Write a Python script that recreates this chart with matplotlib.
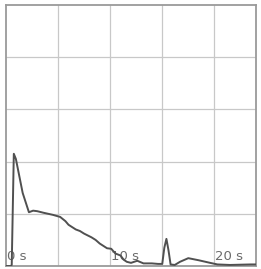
import matplotlib
matplotlib.use("Agg")
import matplotlib.pyplot as plt

# time (s) and value
t = [0.0, 0.45, 0.55, 0.75, 0.95, 1.6, 2.2, 2.6, 3.0, 3.6, 4.5, 5.2, 5.7, 6.0, 6.7, 7.1, 7.5,
     8.2, 8.6, 9.0, 9.7, 10.1, 10.5, 11.0, 11.3, 11.6, 12.0, 12.6, 13.2, 14.0, 14.6, 15.0,
     15.2, 15.4, 15.6, 15.8, 16.2, 16.7, 17.5, 18.5, 19.6, 20.3, 21.5, 23.5, 24.0]
v = [0.0, 0.0, 0.02, 2.15, 2.05, 1.40, 1.03, 1.06, 1.05, 1.02, 0.98, 0.94, 0.86, 0.79, 0.70,
     0.67, 0.62, 0.55, 0.50, 0.43, 0.34, 0.33, 0.24, 0.20, 0.12, 0.08, 0.06, 0.10, 0.05, 0.05,
     0.04, 0.04, 0.35, 0.52, 0.30, 0.03, 0.02, 0.08, 0.15, 0.11, 0.06, 0.03, 0.02, 0.03, 0.03]

tick_vals = [0, 10, 20]
tick_labels = ["0 s", "10 s", "20 s"]
grid_x = [5, 10, 15, 20]
grid_y = [1, 2, 3, 4]

fig = plt.figure(figsize=(2.61, 2.69), dpi=100)
ax = fig.add_axes([6/261, 3/269, 250/261, 261/269])
ax.set_xlim(0, 24)
ax.set_ylim(0, 5)
for gx in grid_x:
    ax.axvline(gx, color="#c8c8c8", lw=0.9, zorder=0)
for gy in grid_y:
    ax.axhline(gy, color="#c8c8c8", lw=0.9, zorder=0)
ax.plot(t, v, color="#505050", lw=1.4, zorder=3)
for tv, tl in zip(tick_vals, tick_labels):
    ax.text(tv + 0.1, 0.012, tl, transform=ax.get_xaxis_transform(), ha="left", va="bottom",
            fontsize=9.5, color="#6a6a6a", zorder=2)
ax.set_xticks([])
ax.set_yticks([])
for s in ax.spines.values():
    s.set_color("#9a9a9a")
    s.set_linewidth(1.3)
fig.savefig("out.png", dpi=100)
